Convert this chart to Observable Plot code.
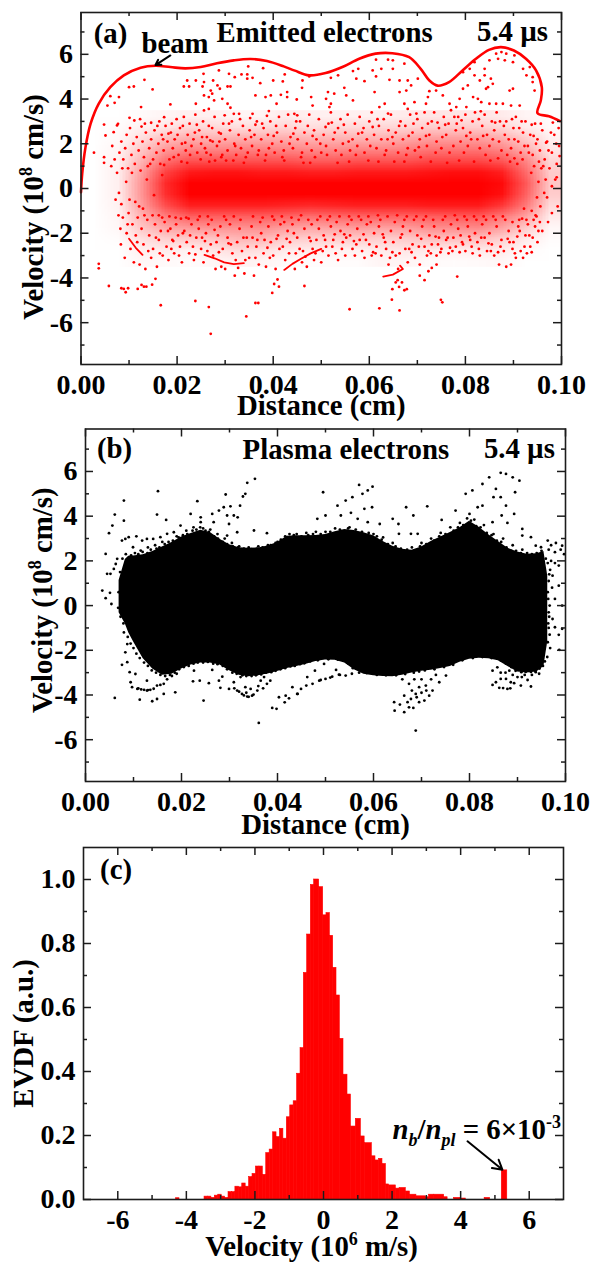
<!DOCTYPE html>
<html><head><meta charset="utf-8">
<script src="https://cdn.jsdelivr.net/npm/d3@7"></script>
<script src="https://cdn.jsdelivr.net/npm/@observablehq/plot@0.6"></script>
<style>html,body{margin:0;padding:0;background:#fff}svg{display:block}</style>
</head><body><div id="chart"></div>
<script>
// ---- shared tick values
const distanceMajor=[0,0.02,0.04,0.06,0.08,0.1];
const distanceMinor=[0.01,0.03,0.05,0.07,0.09];
const velocityMajor=[-6,-4,-2,0,2,4,6];
const velocityMinor=[-7,-5,-3,-1,1,3,5,7];
const evdfXMajor=[-6,-4,-2,0,2,4,6];
const evdfXMinor=[-5,-3,-1,1,3,5];
const evdfYMajor=[0,0.2,0.4,0.6,0.8,1.0];
const evdfYMinor=[0.1,0.3,0.5,0.7,0.9];

// ---- panel (a): x in 1e-3 cm, v in 1e8 cm/s
const beamCurve=[[0,-.17],[.25,.66],[.94,1.85],[2,2.9],[3.7,3.8],[6.1,4.53],[8.9,5.06],[12.4,5.4],[15.5,5.49],[18.6,5.43],[21.7,5.37],[24.9,5.43],[28.3,5.6],[31.8,5.73],[35.3,5.79],[38.7,5.7],[42.2,5.46],[44.5,5.27],[47.5,5.06],[50.9,5.16],[54.4,5.43],[57.9,5.8],[61.3,6.03],[64.8,6.05],[68.3,5.87],[70.7,5.35],[72.5,4.83],[74.2,4.6],[76.6,4.76],[79.4,5.28],[82.2,5.8],[84.9,6.2],[87.4,6.32],[90.1,6.17],[92.6,5.8],[94.7,5.28],[95.9,4.53],[95.7,3.94],[95,3.37],[97.4,3.23],[99.7,3.01]];
const emittedStreaks=[
 [[10,-2.25],[11.4,-2.65],[12.8,-2.97]],
 [[25.7,-2.97],[27.8,-3.12],[29.8,-3.3],[31.8,-3.38],[33.9,-3.34]],
 [[42.3,-3.64],[44,-3.37],[45.7,-3.15],[47.8,-2.9],[50,-2.7]],
 [[62.9,-3.94],[64.9,-3.85],[67,-3.6],[66.4,-3.45]]
];
const emittedDensity=[
0,0,.02,.04,.06,.06,.04,.04,.08,.06,.06,.06,.06,.08,.1,.1,.1,.08,.04,.01,
0,.01,.06,.1,.16,.15,.13,.15,.16,.13,.15,.15,.16,.16,.2,.2,.2,.16,.08,.02,
0,.02,.13,.26,.32,.3,.32,.32,.32,.3,.3,.3,.3,.34,.38,.38,.38,.32,.2,.06,
0,.04,.22,.4,.48,.48,.5,.5,.48,.46,.45,.48,.48,.5,.54,.54,.54,.48,.32,.1,
0,.05,.3,.56,.68,.68,.68,.68,.68,.64,.64,.68,.68,.68,.72,.72,.72,.66,.48,.16,
0,.06,.38,.74,.9,.92,.92,.9,.9,.88,.88,.9,.9,.9,.92,.94,.94,.88,.58,.2,
0,.06,.42,.84,1,1,1,1,1,1,1,1,1,1,1,1,1,.96,.66,.22,
0,.06,.42,.82,1,1,1,1,1,1,1,1,1,1,1,1,1,.94,.62,.2,
0,.05,.38,.7,.88,.88,.88,.88,.86,.84,.86,.88,.88,.88,.9,.9,.9,.78,.52,.14,
0,.04,.3,.5,.62,.62,.62,.62,.6,.56,.58,.6,.6,.6,.62,.64,.64,.52,.36,.08,
0,.03,.22,.34,.4,.42,.42,.44,.38,.34,.36,.38,.36,.38,.44,.44,.46,.36,.2,.03,
0,.01,.12,.18,.2,.22,.28,.28,.2,.18,.18,.2,.18,.2,.24,.24,.24,.18,.08,.01,
0,0,.06,.07,.05,.1,.14,.12,.08,.07,.05,.05,.08,.1,.08,.06,.08,.08,.02,0,
0,0,.03,.02,.01,.03,.05,.04,.02,.01,.01,.01,.04,.04,.02,.01,.02,.03,0,0];
const emittedOutliers=[[3.7,-3.37],[3.7,-3.57],[5.8,-4.36],[8.4,-4.46],[8.9,-4.49],[9.3,-4.64],[9.8,-4.46],[11.8,-4.49],[12.6,-4.31],[13.1,-4.39],[13.6,-4.39],[14.8,-4.3],[15.5,-4.04],[16.6,-5.22],[23.8,-5.03],[26.6,-5.3],[27,-6.5],[34.4,-5.72],[36.3,-5.12],[36.9,-5.12],[39.8,-4.67],[41.2,-4.39],[40.2,-4.27],[40.9,-4.07],[46.5,-4.36],[55.9,-5.4],[62.1,-5.36],[66.3,-5.45],[64.7,-4.97],[74.9,-4.98],[75.2,-5.09],[78.3,-3.94],[65.5,-4.2],[66.2,-4.4],[67.3,-4.55],[64.8,-4.5],[65.9,-4.1],[66.8,-4.2],[67.8,-4.5],[70.5,-3.9],[71.5,-4.1],[72.3,-3.7],[73,-3.55],[74,-3.4]];
const emittedUpper=[[2.7,1.6],[4.8,2.86],[5.1,2.37],[4.8,1.4],[4.8,1.15],[5.5,3.71],[6.1,4.13],[7,3.83],[7.9,4.09],[7.5,2.82],[7.7,2.89],[6.8,2.52],[10,4.53],[11,4.56],[13.2,4.86],[14.9,4.43],[12.5,3.64],[10.1,3.16],[11.1,3.04],[12.6,2.77],[14.6,2.94],[17.3,3.19],[18.6,3.76],[21.4,4.56],[22.5,4.56],[22.1,4.83],[23.9,4.83],[25.5,5.13],[25.3,4.56],[25.6,4.76],[27.5,4.83],[28.7,5.28],[28.4,4.61],[28.9,4.46],[30.5,4.56],[31.1,4.56],[30.8,5.13],[32,4.98],[33.4,5.1],[34.6,5.1],[34.8,5.46],[34.6,4.91],[35.7,4.95],[37.9,5.38],[37.3,4.71],[40,4.83],[42,4.79],[42.4,5.1],[36.3,4.16],[38.4,4.09],[39.5,4.16],[41.6,4.19],[42.9,4.31],[42.9,4.09],[44.9,3.98],[40.7,3.79],[39.1,3.46],[25.6,4.16],[26.6,4.09],[27,4.38],[27.3,4.24],[29.4,4.01],[27.7,3.94],[23.9,3.79],[25.6,3.49],[26.6,3.56],[30.5,3.79],[31.1,3.61],[29.9,3.27],[31.8,3.34],[32.9,3.34],[35.7,3.34],[44.4,3.34],[45,3.27],
[46.1,4.83],[46,4.5],[47.5,5.01],[52,4.95],[53.5,5.06],[56.6,5.25],[57.7,5.35],[60.7,5.28],[61.4,5.76],[63.9,5.76],[64.9,5.73],[67.3,5.58],[64.9,5.35],[62.5,5.35],[57.3,4.91],[59,4.8],[64.2,4.86],[66.3,4.83],[68,4.83],[70.1,4.91],[61.4,5.01],[54.8,4.5],[51.4,4.31],[52.7,4.24],[51,4.01],[47.9,4.09],[61.1,4.31],[66.3,4.31],[67.7,4.38],[68.7,4.61],[72.5,4.35],[73.9,4.38],[72.2,4.09],[71.8,3.79],[75.3,4.16],[67.3,3.79],[68,3.56],[69.4,3.86],[63.2,3.79],[62.1,3.64],[56.6,3.94],[55.2,4.16],[52,3.79],[51.7,3.64],[48.2,3.71],
[81.9,5.65],[80.9,5.35],[79.5,5.2],[85,5.73],[86.4,6.03],[87.5,6.1],[88.5,6.03],[86.8,5.8],[88.2,5.73],[89.9,5.65],[90.2,5.95],[92,5.35],[93.4,5.43],[92.7,5.06],[94,4.76],[94.4,4.38],[94,4.98],[81.9,5.06],[84,5.35],[84,5.06],[83,4.83],[85.3,4.91],[85.7,4.68],[84.7,4.53],[89.2,4.38],[89.9,4.46],[80.5,4.61],[79.5,4.46],[78.8,4.01],[81.6,4.09],[82.6,4.01],[83.3,3.86],[84.3,4.46],[85,3.79],[86.4,3.79],[87.8,3.79],[89.5,3.71],[91.3,3.71],[80.2,3.64],[76.7,3.79],[78.1,3.64]];
const emittedField=[[6.5,1.9],[6.3,1],[7,1.3],[7.5,.7],[8,1.6],[8.4,2.1],[8.8,1.3],[9.2,1.8],[9.5,2.4],[9.8,.9],[10.2,2.7],[10.5,1.5],[10.9,2],[11.2,1.1],[11.6,2.3],[12,1.7],[12.4,.8],[12.8,2.1],[13.1,1.4],[13.5,2.5],[13.9,1],[14.2,1.8],[14.6,2.2],[15,1.3],[15.3,2.6],[15.7,1.6],[16.1,2],[16.5,1.1],[16.8,2.4],[17.2,1.7],[17.6,2.8],[18,2.1],[18.4,1.3],[18.7,2.5],[19.1,1.8],[19.5,2.2],[19.9,3.1],[20.3,1.5],[20.6,2.7],[21,2],[21.4,3.2],[21.8,1.7],[22.2,2.4],[22.6,2.9],[23,1.9],[23.4,2.2],[23.8,3.3],[24.2,1.6],[24.6,2.6],[25,2],[25.4,3],[25.8,1.8],[26.2,2.3],[26.6,2.8],[27,1.5],[27.4,2.1],[27.8,3.2],[28.3,1.9],[28.7,2.5],[29.2,1.4],[29.6,2.9],[30,2.2],[30.5,1.7],[31,2.6],[31.4,3],[31.9,2],[32.3,1.5],[32.8,2.4],[33.3,1.8],[33.7,2.8],[34.2,2.2],[34.7,1.6],[35.1,2.6],[35.6,1.9],[36.1,2.4],[36.6,3],[37,1.7],[37.5,2.2],[38,2.7],[38.5,1.5],[38.9,2.4],[39.4,3],[39.8,2],[40.3,1.6],[40.8,2.5],[41.2,3.2],[41.7,2.1],[42.2,1.7],[42.6,2.8],[43.1,3.3],[43.6,2.3],[44.1,1.8],[44.6,2.7],[45.1,2.2],[45.6,3],[46,1.6],[46.5,2.5],[47,2],[47.5,3.3],[48,1.7],[48.5,2.6],[49,2.2],[49.5,3.1],[50,1.6],[50.5,2.4],[51,1.9],[51.5,2.9],[52,3.4],[52.5,2.2],[53,1.7],[53.5,2.7],[54,3.1],[54.5,2],[55,2.5],[55.5,3.3],[56,1.7],[56.5,2.2],[57,2.9],[57.5,1.9],[58,3.2],[58.5,2.5],[59,1.6],[59.5,2.2],[60,3],[60.5,3.4],[61,2.4],[61.5,1.8],[62,2.8],[62.5,2.2],[63,3.1],[63.5,1.7],[64,2.6],[64.5,3.3],[65,2],[65.5,2.5],[66,1.6],[66.5,3],[67,2.2],[67.5,2.8],[68,1.8],[68.5,3.3],[69,2.5],[69.5,1.7],[70,3.1],[70.5,2.2],[71,2.7],[71.5,3.4],[72,1.9],[72.5,2.4],[73,3],[73.5,3.4],[74,2.1],[74.5,2.7],[75,1.8],[75.5,3.2],[76,2.4],[76.5,2.9],[77,3.5],[77.5,1.9],[78,2.6],[78.5,3.2],[79,2.1],[79.5,2.7],[80,3.3],[80.5,1.9],[81,2.5],[81.5,3],[82,3.4],[82.5,2.2],[83,1.8],[83.5,2.8],[84,3.3],[84.5,2.4],[85,1.9],[85.5,3],[86,2.6],[86.5,3.4],[87,2.1],[87.5,1.7],[88,2.8],[88.5,3],[89,2.2],[89.5,1.8],[90,2.7],[90.5,3.2],[91,2.1],[91.5,1.6],[92,2.5],[92.5,3],[93,1.9],[93.5,2.4],[94,1.5],[94.5,2.9],[95,2.2],[95.5,1.7],[96,2.6],[96.5,1.3],[97,2.1],[97.5,.9],[98,1.6],[98.5,2.4],[99,1.1],[99.5,1.9],[99,.5],[98,.1],[97,-.4],[99.2,-.8],[98,-1.1],[97.2,-1.5],[96,-1.9],
[7.2,-.5],[7.8,-1.2],[8.2,-1.8],[8.3,-2.5],[8.7,-1.3],[9.1,-3.1],[9.5,-2],[9.9,-1.1],[10.3,-2.7],[10.7,-1.6],[11,-3.3],[11.4,-2.1],[11.8,-1.3],[12.2,-3.4],[12.6,-1.8],[13,-2.5],[13.4,-3.6],[13.8,-1.4],[14.2,-2.1],[14.6,-3.1],[15,-2.7],[15.4,-1.6],[15.8,-3.5],[16.2,-2.3],[16.6,-1.9],[17,-3],[17.4,-1.5],[17.8,-2.6],[18.2,-3.2],[18.6,-1.8],[19,-2.3],[19.4,-2.9],[19.8,-1.6],[20.2,-2.1],[20.6,-2.6],[21,-3.3],[21.5,-1.9],[22,-2.4],[22.5,-2.9],[23,-1.6],[23.5,-3.2],[24,-2.2],[24.5,-1.8],[25,-2.7],[25.5,-3.3],[26,-2],[26.5,-1.6],[27,-2.5],[27.5,-3],[28,-3.6],[28.5,-2.1],[29,-1.7],[29.5,-2.7],[30,-3.6],[30.5,-2.2],[31,-1.6],[31.5,-2.9],[32,-3.9],[32.5,-2.4],[33,-1.8],[33.5,-2.8],[34,-3.8],[34.5,-2.2],[35,-3.1],[35.5,-1.7],[36,-3.9],[36.5,-2.6],[37,-3.4],[37.5,-2],[38,-2.9],[38.5,-3.5],[39,-1.7],[39.5,-2.4],[40,-3],[40.5,-3.6],[41,-2.1],[41.5,-1.6],[42,-2.6],[42.5,-3.2],[43,-1.9],[43.5,-2.4],[44,-1.6],[44.5,-3.6],[45,-2.2],[45.5,-2.7],[46,-3.3],[46.5,-1.8],[47,-3.5],[47.5,-2.2],[48,-1.6],[48.5,-3.2],[49,-2.3],[49.5,-1.8],[50,-3.3],[50.5,-2.1],[51,-2.6],[51.5,-3],[52,-1.7],[52.5,-2.3],[53,-2.9],[53.5,-3.2],[54,-1.9],[54.5,-2.4],[55,-3],[55.5,-1.6],[56,-2.1],[56.5,-2.7],[57,-3],[57.5,-1.8],[58,-2.3],[58.5,-2.8],[59,-3.1],[59.5,-1.6],[60,-2.5],[60.5,-3],[61,-2],[61.5,-2.6],[62,-1.7],[62.5,-3],[63,-2.2],[63.5,-2.7],[64,-3.4],[64.5,-1.9],[65,-2.4],[65.5,-3],[66,-3.6],[66.5,-2.2],[67,-1.7],[67.5,-2.7],[68,-3.3],[68.5,-1.9],[69,-2.5],[69.5,-3.1],[70,-2.1],[70.5,-3.4],[71,-1.7],[71.5,-2.6],[72,-3],[72.5,-2.1],[73,-2.5],[73.5,-1.7],[74,-3],[74.5,-2.2],[75,-2.7],[75.5,-1.9],[76,-2.3],[76.5,-2.9],[77,-1.6],[77.5,-2.2],[78,-2.6],[78.5,-1.8],[79,-2.1],[79.5,-2.5],[80,-2.8],[80.5,-1.7],[81,-2.3],[81.5,-2.9],[82,-2],[82.5,-2.4],[83,-3],[83.5,-1.6],[84,-2.2],[84.5,-2.8],[85,-2],[85.5,-2.5],[86,-3],[86.5,-1.7],[87,-3.4],[87.5,-2.3],[88,-2.8],[88.5,-3.5],[89,-1.9],[89.5,-3.4],[90,-2.4],[90.5,-3.1],[91,-1.7],[91.5,-2.8],[92,-3.1],[92.5,-2.1],[93,-1.6],[93.5,-2.6],[94,-2.2],[94.5,-1.7],[95,-2.4],[95.5,-1.5]];
// further passes over the speckled band, above and below the core
const emittedSpeckle=[[9.4,.3],[7.9,-.2],[10.6,.7],[11.3,-.6],[8.6,.9],[12.9,-.9],[13.7,.4],[15.2,-.3],[14.4,1.1],[16.9,.6],[12.3,3.1],[16.3,3],[18.9,2.9],[20.9,1.2],[24.9,1.3],[22.7,1.5],[26.7,1.2],[19.3,1.4],[17.1,2.2],[15.9,2.8],[13.3,2.9],[20.1,2.4],[21.2,2.8],[23.7,2.5],[25.2,2.3],[26.1,1.6],[27.3,2.7],[28.8,2.1],[29.4,1.5],[30.8,2.9],[32.1,1.9],[33.1,3.1],[34.3,1.4],[35.4,2.3],[36.8,1.5],[37.7,2.9],[39.1,1.8],[40.6,2.8],[41.9,1.4],[43.4,2],[44.8,3],[45.8,1.4],[47.2,2.8],[48.7,1.4],[49.8,2],[51.2,1.5],[52.8,2.5],[54.2,1.5],[55.7,2.1],[57.2,1.5],[58.8,2.7],[60.2,1.9],[61.7,3.1],[63.2,1.5],[64.8,2.3],[66.2,2.8],[67.7,1.5],[69.2,2.9],[70.7,1.4],[72.2,2.9],[73.8,1.6],[75.2,2.3],[76.7,1.6],[78.2,2.9],[79.7,1.6],[81.2,2.2],[82.8,3.1],[84.2,1.5],[85.7,2.2],[87.2,3],[88.7,1.5],[90.2,2.2],[91.7,3],[93.2,1.6],[94.7,2],[96.2,1],[97.8,2.5],[99.4,2.7],[98.7,.4],[97.3,1.7],[96.7,.4],[95.8,.9],[95.2,.3],[94.3,1],[93.7,.7],[94.9,-.4],[95.6,-.8],[96.4,-.2],[93.8,-1],[94.6,-1.2],[92.7,-1.4],[91.9,1.3],[90.8,1.1],[89.3,1.2],[92.2,-.9],[91.2,-1.4],[89.8,-1.5],
[8.4,-.7],[9.7,-1.6],[10.1,-.5],[11.7,-2.4],[12.1,-.8],[13.2,-1.2],[14.9,-1.2],[14,-2.8],[15.6,-2.2],[16.4,-2.9],[16.9,-1.3],[18.1,-1.9],[18.8,-2.7],[19.7,-1.3],[20.4,-3],[21.2,-2],[21.9,-1.3],[22.7,-2.1],[23.3,-2.6],[24.3,-1.4],[25.2,-2.2],[26.3,-2.8],[27.2,-1.4],[28.2,-2.4],[29.2,-3.5],[30.2,-1.4],[31.2,-2.5],[32.2,-3.2],[33.2,-1.4],[34.7,-2.6],[35.7,-2.2],[36.3,-3.1],[37.3,-1.5],[38.2,-2.3],[39.3,-3.1],[40.2,-1.4],[41.3,-2.7],[42.3,-1.5],[43.3,-2.9],[44.3,-2],[45.3,-1.4],[46.2,-2.8],[47.3,-1.4],[48.2,-2.7],[49.2,-1.4],[50.3,-2.8],[51.3,-1.4],[52.3,-2.6],[53.2,-1.5],[54.3,-2.7],[55.2,-2.2],[56.3,-1.4],[57.3,-2.5],[58.3,-1.4],[59.3,-2.3],[60.3,-1.5],[61.3,-2.9],[62.3,-1.4],[63.3,-2.4],[64.3,-3.1],[65.3,-1.5],[66.3,-2.9],[67.3,-1.4],[68.3,-2.7],[69.3,-1.4],[70.3,-2.6],[71.3,-1.4],[72.3,-2.8],[73.3,-1.4],[74.3,-2.5],[75.3,-1.4],[76.3,-2.2],[77.3,-2.8],[78.3,-1.4],[79.3,-2.4],[80.3,-1.4],[81.3,-2.6],[82.3,-1.4],[83.3,-2.2],[84.3,-1.4],[85.3,-2.8],[86.3,-1.4],[87.3,-2.6],[88.3,-1.4],[89.2,-2.4],[90.3,-2.9],[91.3,-1.9],[92.3,-2.6],[93.3,-2.1],[94.2,-1.4]];
const emittedSpeckleMore=[[17.3,1.05],[22.1,1.15],[18.2,2.45],[24.1,2.85],[21.7,2.05],[27.9,1.25],[26.9,2.15],[30.2,1.25],[29.1,2.45],[33.9,1.15],[35.2,3.15],[31.7,1.25],[38.3,1.25],[36.3,2.85],[40.1,2.35],[42.3,1.25],[38.7,3.25],[46.3,1.15],[44.2,2.45],[48.2,2.35],[50.9,2.75],[47.7,1.15],[53.4,1.15],[52.2,2.95],[55.8,1.2],[57.7,2.45],[54.7,2.85],[59.8,1.25],[61.9,1.2],[60.7,2.75],[63.8,2.2],[65.2,1.2],[63.9,3.35],[67.3,1.2],[68.2,2.35],[70.3,1.85],[69.8,3.35],[72.8,1.2],[74.2,2.95],[71.8,2.35],[76.2,1.15],[75.8,2.85],[78.7,1.25],[77.7,3.2],[80.2,2.35],[81.8,1.2],[79.2,3.05],[83.7,2.35],[85.2,1.25],[83.2,3.45],[86.8,1.35],[88.2,2.4],[86.2,2.95],[90.2,1.35],[89.7,3.1],[92.3,1.9],[93.8,2.85],[91.2,2.7],[95.3,1.2],[94.2,2.35],[96.8,2.05],[95.7,2.9],[98.2,2.95],[99.6,1.45],[98.9,2],
[18.4,-1.25],[20.8,-1.35],[16.2,-1.2],[19.2,-2.35],[22.4,-1.35],[24.7,-1.25],[23.8,-2.95],[26.4,-1.25],[27.8,-1.85],[25.8,-2.35],[29.8,-1.25],[28.7,-2.85],[31.8,-1.25],[30.7,-2.45],[33.8,-2.2],[32.7,-3.55],[35.8,-1.25],[34.2,-3.2],[37.8,-1.3],[36.7,-2.3],[39.8,-1.25],[38.8,-2.65],[41.8,-1.25],[40.7,-2.25],[43.8,-1.3],[42.8,-2.25],[45.8,-1.2],[44.7,-2.9],[47.8,-2.35],[46.7,-3.05],[49.8,-1.25],[48.8,-2.9],[51.8,-1.25],[50.8,-2.3],[53.8,-1.25],[52.8,-2.05],[55.8,-1.25],[54.8,-2.05],[57.8,-1.25],[56.8,-2.35],[59.8,-1.25],[58.8,-2.05],[61.8,-1.2],[60.8,-2.85],[63.8,-1.25],[62.8,-2.05],[65.8,-1.2],[64.8,-2.85],[67.8,-1.25],[66.8,-2.05],[69.8,-1.25],[68.8,-2.85],[71.8,-1.25],[70.8,-2.25],[73.8,-2.15],[72.8,-2.9],[75.8,-1.25],[74.8,-2.85],[77.8,-1.2],[76.8,-2.65],[79.8,-1.25],[78.8,-2.85],[81.8,-1.25],[80.8,-2.15],[83.8,-1.25],[82.8,-2.7],[85.8,-1.25],[84.8,-2.45],[87.8,-1.25],[86.8,-2.85],[89.8,-2.7],[88.8,-2.25],[91.8,-1.35],[90.8,-2.15],[93.8,-2.85],[92.8,-2.9],[95.2,-1.9],[94.8,-1.25]];

// ---- panel (b): the solid cloud's edges, then the dots outside it
const plasmaX=[7,8.3,9,10,12,14,16,18,20,22,24,26,28,30,32,34,36,38,40,42,44,46,48,50,52,54,56,58,60,62,64,66,68,70,72,74,76,78,80,82,84,86,88,90,92,94,95.5,96.3];
const plasmaUpper=[1.12,2.06,2.21,2.22,2.27,2.42,2.62,2.82,3.07,3.22,3.37,3.27,2.97,2.72,2.59,2.57,2.58,2.67,2.82,3.1,3.12,3.12,3.14,3.18,3.3,3.4,3.36,3.26,3.12,2.87,2.66,2.52,2.47,2.62,2.87,3.07,3.27,3.48,3.77,3.5,3.17,2.87,2.57,2.4,2.3,2.32,2.42,1.32];
const plasmaLower=[-.32,-.82,-1.22,-1.62,-2.37,-2.84,-3.12,-3.07,-2.84,-2.66,-2.57,-2.57,-2.66,-2.92,-3.12,-3.18,-3.14,-3.06,-2.95,-2.82,-2.72,-2.62,-2.5,-2.43,-2.45,-2.57,-2.87,-3.07,-3.14,-3.17,-3.18,-3.12,-3.02,-2.94,-2.89,-2.82,-2.72,-2.54,-2.4,-2.36,-2.38,-2.47,-2.72,-2.97,-3.02,-2.97,-2.72,-1.62];
const plasmaDots=[[3.5,.67],[4.2,.33],[5.1,.57],[5.4,.07],[4.5,1.42],[5.2,1.42],[4.2,2.31],[4.9,3.24],[5.6,3.58],[6.1,4.07],[8,4.7],[8,3.8],[14.9,4.07],[15.1,5.12],[16.8,3.83],[19.8,3.58],[21.9,4.1],[23.3,4.67],[29.2,4.97],[33.7,5.49],[35.3,5.67],[33.3,5],[32.8,4.88],[32.2,4.47],[30.2,4.44],[28.8,4.4],[27.8,4.25],[26.4,4.1],[24,3.95],[24,3.73],[26.7,3.73],[29.5,4.03],[30.9,4.03],[31.7,3.95],[29.9,3.65],[35.1,3.36],[37.8,3.24],[31.6,3.28],[29.5,3.13],[7.6,2.91],[8.3,2.98],[9,3.06],[10.6,3.1],[11.8,2.91],[12.8,2.98],[14.1,2.98],[15.6,3.06],[17,3.21],[18.4,3.28],[6.6,2.09],[6.3,1.86],[5.9,1.64],[9.9,2.61],[11.5,2.46],[13,2.6],[14.5,2.7],[16,2.85],[19,3.1],[21,3.35],[22.5,3.5],[24.5,3.45],[26,3.4],[27.5,3.2],[29,3],[30.5,2.8],[32,2.65],[34,2.6],[36,2.65],[38,2.7],[40,2.85],
[49.5,5.07],[52.5,4.47],[54.2,4.7],[55.6,4.85],[57,5.4],[57.7,5],[58.8,5.15],[59.8,5.32],[53.2,4.03],[55.3,4.15],[56.7,3.88],[58.1,4.33],[59.7,4.4],[58.8,3.73],[61.3,3.65],[64,3.88],[65.2,3.65],[66.8,4.4],[68.3,4.03],[71.2,4.44],[50,4.03],[48.3,3.88],[69.2,3.21],[67.8,3.21],[65.3,3.21],[74.2,3.83],[77.1,4.25],[79.2,5],[80.6,5.15],[82.7,5.44],[84.1,5.74],[86.5,5.94],[87.6,5.89],[89,5.74],[90.4,5.59],[89.5,5.07],[85.5,5.22],[86.5,4.85],[87.6,4.47],[85,4.85],[82.7,4.47],[81.7,4.4],[80,4.1],[86.7,4.03],[89.3,4.1],[87.9,3.7],[91,3.43],[91,3.13],[92.8,3.06],[84.8,3.73],[93.8,2.68],[96.3,2.91],[99.3,2.68],[94.9,2.61],[97.8,2.39],[98.6,1.79],[97.3,1.34],[98.6,.89],[97.8,.3],[99.3,0],[97.3,-.6],[97.8,-.97],[99.3,-1.04],[98.6,-1.31],[96.3,.6],[96.7,0],[97,2.7],[98,2.8],[99,2.5],[99.7,2.3],[96.5,2.5],[97,2],[96.8,1.6],[97.8,1.9],[96.5,1.1],[97.2,.8],[96.6,-.5],[96.5,-1],[44,3.2],[46,3.25],[48,3.3],[50,3.3],[52,3.45],[55,3.5],[60,3.2],[62,3.05],[64,2.8],[68,2.6],[70,2.8],[72,3],[74,3.25],[76,3.5],[78,3.7],[79.5,3.9],[81,3.85],[83,3.6],[85,3.2],[87,3],[89,2.7],[91,2.5],
[6.1,-4.13],[7.6,-2.65],[8.7,-1.72],[8.3,-2.09],[8.7,-2.53],[9.2,-2.98],[9.4,-3.43],[9.7,-3.65],[10.8,-3.73],[12.2,-3.77],[13.5,-3.77],[14.9,-3.58],[16.3,-3.5],[11.3,-4.21],[13.9,-4.28],[14.9,-4.18],[16.3,-3.95],[18.7,-3.88],[10.4,-3.06],[12.8,-3.36],[22.4,-3.39],[23.8,-3.36],[25.7,-3.47],[24.6,-4.25],[27.8,-3.36],[28.5,-3.18],[28.1,-3.68],[29.9,-3.73],[30.9,-3.43],[31.6,-3.8],[32.6,-3.95],[33.7,-4.07],[34.7,-4.03],[35.8,-3.8],[33.3,-3.65],[34.4,-3.73],[36.1,-5.25],[38.9,-4.58],[39.8,-4.62],[40.3,-4.1],[41.7,-4.03],[41.5,-4.33],[42.4,-4.15],[43.1,-3.65],[44.1,-3.95],[37.8,-3.5],[36.5,-3.36],[38.5,-3.36],[22.6,-2.91],[26.4,-2.88],[32.3,-3.2],[35.8,-3.06],[37.2,-3.2],[11,-3.7],[11.6,-3.75],[12.8,-3.8],[13,-3.78],[14.2,-3.72],[15.6,-3.55],[17,-3.3],[18,-3.15],[19,-3.05],[33,-4.02],[34,-4.08],[35,-3.98],[31,-3.7],[32,-3.85],[33.5,-3.9],[36,-3.6],[37,-3.7],[44.2,-3.95],[44.9,-3.73],[46.2,-3.2],[46,-3.58],[47.3,-3.5],[48.7,-3.36],[50,-3.28],[51.4,-3.18],[52.8,-3.09],[54.2,-3.13],[47.8,-2.91],[49.7,-2.61],[52.2,-2.88],[49,-3.33],[51,-3.22],[53,-3.1],[55.5,-3.05],[64.3,-4.32],[65.5,-4.43],[64.4,-4.7],[66.4,-4.77],[66.4,-4.03],[67.1,-4.32],[67.4,-4.55],[68.3,-4.58],[67.8,-4.18],[69.5,-4.32],[68.8,-3.95],[70.6,-4.25],[71.6,-4.03],[68.8,-5.59],[67.4,-3.5],[69.5,-3.65],[70.9,-3.58],[72.3,-3.8],[73.7,-3.43],[75.1,-3.13],[68,-3.8],[69,-4.1],[70,-3.9],[71,-3.8],[66,-3.3],[68.5,-3.3],[70,-3.3],[72,-3.3],[73,-3.1],[84.8,-3.55],[85.5,-3.43],[86.5,-3.28],[86.2,-3.68],[87.9,-3.73],[87.6,-3.28],[88.6,-3.43],[89.3,-3.47],[90.7,-3.58],[92.8,-3.62],[84.8,-2.91],[85.8,-2.76],[88.3,-2.91],[90.9,-3.2],[92.1,-3.33],[93.8,-2.98],[98.7,-1.98],[96.3,-1.64],[87,-3.69],[88.5,-3.7],[86.5,-3],[87.5,-3],[89,-3.1],[90,-3.2],[91.5,-3.1],[93,-3.1],[94.5,-3.05],[95.7,-2.5]];
// dots that straddle the edge of the solid cloud and make it fuzzy
const plasmaFringe=[[7.2,1.5],[7.4,.2],[6.9,.6],[6.8,-.1],[7.3,-.5],[7.9,-.8],[7.7,2.1],[8.4,2.3],[9.5,2.25],[10.3,2.35],[11,2.3],[11.9,2.4],[12.9,2.35],[13.6,2.5],[14.8,2.55],[15.4,2.6],[16.5,2.75],[17.3,2.85],[18.2,2.9],[19.4,3.05],[20.3,3.15],[21.2,3.2],[22.3,3.35],[23.1,3.4],[23.9,3.5],[25,3.35],[25.7,3.3],[26.8,3.1],[27.6,3],[28.6,2.85],[29.5,2.75],[30.7,2.65],[31.8,2.6],[33,2.55],[34.6,2.52],[35.7,2.55],[36.9,2.6],[38.6,2.7],[39.6,2.8],[40.7,2.95],[41.6,3.1],[42.5,3.2],[43.4,3.15],[45,3.1],[46.4,3.15],[47.4,3.2],[49,3.2],[51,3.3],[53,3.4],[54.7,3.45],[56.3,3.4],[57.6,3.3],[59,3.25],[60.7,3.1],[61.7,2.95],[63,2.75],[64.6,2.65],[65.7,2.55],[67,2.5],[68.5,2.45],[69.7,2.65],[71,2.75],[72.6,2.9],[73.7,3.1],[75,3.2],[76.7,3.35],[77.6,3.5],[78.7,3.6],[80.3,3.8],[81.4,3.55],[82.3,3.5],[83.6,3.25],[84.6,3.15],[85.7,2.9],[86.6,2.85],[87.7,2.6],[88.7,2.45],[89.7,2.45],[90.7,2.35],[92,2.35],[93,2.3],[94,2.35],[95,2.45],[95.9,2.1],[96.3,1.9],[96.6,1.4],[96.4,.3],[96.5,-.3],[96.4,-.8],[96.7,-1.3],[96.8,-1.9],[96.2,-2.3],
[8,-1.2],[8.8,-1.4],[9.4,-1.7],[10,-1.9],[10.6,-2.15],[11.3,-2.35],[12.2,-2.55],[13,-2.7],[13.8,-2.9],[14.7,-3],[15.6,-3.1],[16.6,-3.15],[17.6,-3.1],[18.6,-3],[19.5,-2.85],[20.5,-2.75],[21.5,-2.7],[22.5,-2.6],[23.4,-2.55],[24.5,-2.55],[25.5,-2.52],[26.6,-2.6],[27.5,-2.62],[28.6,-2.7],[29.5,-2.85],[30.6,-3],[31.5,-3.05],[32.7,-3.12],[33.5,-3.15],[34.6,-3.15],[35.5,-3.12],[36.6,-3.08],[37.6,-3],[38.7,-2.98],[39.6,-2.92],[40.6,-2.85],[41.6,-2.8],[42.7,-2.72],[43.6,-2.7],[44.7,-2.62],[45.6,-2.58],[46.8,-2.5],[48.4,-2.45],[50.6,-2.4],[52.6,-2.42],[54.8,-2.6],[55.7,-2.8],[57,-3],[58.6,-3.02],[60.7,-3.1],[62.6,-3.12],[64.7,-3.12],[66.6,-3.06],[68.4,-3],[69.5,-2.95],[70.7,-2.9],[72.7,-2.85],[74.7,-2.75],[76.6,-2.65],[78.5,-2.45],[80.7,-2.35],[82.7,-2.3],[84.6,-2.35],[86.5,-2.45],[87.6,-2.6],[88.7,-2.75],[89.6,-2.92],[90.8,-2.98],[91.7,-2.97],[92.8,-2.97],[93.7,-2.92],[94.6,-2.82],[95.3,-2.7]];

// ---- panel (c)
const evdfEdges=[-4.3,-4.2,-3.47,-3.37,-3.27,-3.17,-3.07,-2.97,-2.87,-2.77,-2.67,-2.57,-2.47,-2.37,-2.27,-2.17,-2.07,-1.97,-1.87,-1.77,-1.67,-1.57,-1.47,-1.37,-1.27,-1.17,-1.07,-.97,-.87,-.77,-.67,-.573,-.476,-.369,-.272,-.126,-.01,.087,.185,.282,.379,.476,.583,.7,.8,.943,1.09,1.2,1.41,1.516,1.62,1.72,1.82,1.91,2.11,2.22,2.4,2.52,2.71,2.98,3.08,3.23,3.52,3.62,3.81,4,4.15,4.7,4.86,5.2,5.36];
const evdfHeights=[.004,0,.009,.009,.005,.012,.015,.009,.005,.023,.023,.04,.038,.05,.04,.07,.08,.103,.103,.077,.145,.156,.21,.195,.221,.19,.257,.294,.307,.393,.473,.708,.828,.983,1,.976,.888,.895,.824,.724,.6375,.502,.39,.328,.228,.252,.197,.176,.135,.122,.127,.111,.047,.044,.034,.036,.025,.015,.01,.007,.015,.015,.007,0,.005,.003,0,.005,0,.091];

const FONT="'Liberation Serif','Times New Roman',serif";
const INK="#1c1c1c";
const bold={fontFamily:FONT,fontWeight:"bold",fontSize:28,fill:"#000"};
const title={...bold,fontSize:28.8};

// Turn ^{..}, _{..} and *..* in a label into real tspans
function richText(svg){
  d3.select(svg).selectAll("text").each(function(){
    const s=this.textContent;
    if(!/[\^_*]/.test(s))return;
    const parts=s.split(/(\^\{[^}]*\}|_\{[^}]*\}|\*[^*]*\*)/).filter(p=>p);
    const sel=d3.select(this);sel.text(null);
    let shift=0;
    for(const p of parts){
      const t=sel.append("tspan");
      let need=0;
      if(p[0]==="^"){t.text(p.slice(2,-1)).attr("font-size",18);need=-11;}
      else if(p[0]==="_"){t.text(p.slice(2,-1)).attr("font-size",18).attr("font-style","italic");need=7;}
      else if(p[0]==="*"){t.text(p.slice(1,-1)).attr("font-style","italic");}
      else t.text(p);
      if(need!==shift){t.attr("dy",need-shift);shift=need;}
    }
  });
  return svg;
}

function panel({height,mL,mR,mT,mB,xDomain,yDomain,xMajor,xMinor,yMajor,yMinor,xFormat,yFormat,xPad,marks,extra}){
  const innerW=592-mL-mR, innerH=height-mT-mB, major=8, minor=4;
  const ts={stroke:INK,strokeWidth:1.5};
  const plot=Plot.plot({
    width:592,height,marginLeft:mL,marginRight:mR,marginTop:mT,marginBottom:mB,
    style:{background:"transparent",font:`bold 28px ${FONT}`,color:"#000"},
    x:{domain:xDomain,label:null},y:{domain:yDomain,label:null},
    ...extra,
    marks:[
      ...marks,
      Plot.tickX(xMajor,{x:d=>d,insetTop:innerH-major,...ts}),
      Plot.tickX(xMinor,{x:d=>d,insetTop:innerH-minor,...ts}),
      Plot.tickX(xMajor,{x:d=>d,insetBottom:innerH-major,...ts}),
      Plot.tickX(xMinor,{x:d=>d,insetBottom:innerH-minor,...ts}),
      Plot.tickY(yMajor,{y:d=>d,insetRight:innerW-major,...ts}),
      Plot.tickY(yMinor,{y:d=>d,insetRight:innerW-minor,...ts}),
      Plot.tickY(yMajor,{y:d=>d,insetLeft:innerW-major,...ts}),
      Plot.tickY(yMinor,{y:d=>d,insetLeft:innerW-minor,...ts}),
      Plot.frame({stroke:INK,strokeWidth:1.6}),
      Plot.axisX({ticks:xMajor,tickSize:0,tickPadding:xPad,tickFormat:xFormat,label:null,...bold}),
      Plot.axisY({ticks:yMajor,tickSize:0,tickPadding:8,tickFormat:yFormat,label:null,...bold})
    ].concat(extra.after||[])
  });
  return richText(plot);
}
const x1e3=d=>d[0]/1000, v=d=>d[1];
const label=(t,o)=>Plot.text([t],{text:d=>d,...title,...o});

const chart=document.getElementById("chart");
// (a)
chart.append(panel({height:425,mL:80.5,mR:31,mT:12,mB:61,xDomain:[0,.1],yDomain:[-7.87,7.87],
  xMajor:distanceMajor,xMinor:distanceMinor,yMajor:velocityMajor,yMinor:velocityMinor,
  xFormat:d=>d.toFixed(2),yFormat:String,xPad:10,
  extra:{color:{type:"linear",domain:[0,1],range:["#ffffff","#ff0000"]},after:[
    label("(a)",{x:.00614,y:6.93}),
    label("Emitted electrons",{x:.0507,y:6.98}),
    label("5.4 µs",{x:.0898,y:7.02}),
    label("beam",{x:.01956,y:6.49}),
    Plot.arrow([0],{x1:()=>.0186,y1:()=>5.95,x2:()=>.0155,y2:()=>5.52,bend:0,headLength:7,strokeWidth:2,stroke:"#000"}),
    label("Distance (cm)",{frameAnchor:"bottom",dy:50}),
    label("Velocity (10^{8} cm/s)",{frameAnchor:"left",textAnchor:"middle",dx:-47.5,dy:18.5,rotate:-90})
  ]},
  marks:[
    Plot.raster(emittedDensity,{width:20,height:14,x1:0,x2:.1,y1:3.5,y2:-3.5,fill:d=>d}),
    Plot.dot([...emittedField,...emittedSpeckle,...emittedSpeckleMore,...emittedOutliers,...emittedUpper],{x:x1e3,y:v,r:1.4,fill:"#ff0000",stroke:"none"}),
    ...emittedStreaks.map(s=>Plot.line(s,{x:x1e3,y:v,stroke:"#ff0000",strokeWidth:1.8})),
    Plot.line(beamCurve,{x:x1e3,y:v,stroke:"#ff0000",strokeWidth:2.6,curve:"catmull-rom"})
  ]}));
// (b)
const plasmaRows=plasmaX.map((x,i)=>({x:x/1000,hi:plasmaUpper[i],lo:plasmaLower[i]}));
chart.append(panel({height:420,mL:85,mR:27,mT:3.5,mB:64,xDomain:[0,.1],yDomain:[-7.87,7.9],
  xMajor:distanceMajor,xMinor:distanceMinor,yMajor:velocityMajor,yMinor:velocityMinor,
  xFormat:d=>d.toFixed(2),yFormat:String,xPad:10,
  extra:{after:[
    label("(b)",{x:.00604,y:7.02}),
    label("Plasma electrons",{x:.05425,y:6.98}),
    label("5.4 µs",{x:.0904,y:7.02}),
    label("Distance (cm)",{frameAnchor:"bottom",dy:52}),
    label("Velocity (10^{8} cm/s)",{frameAnchor:"left",textAnchor:"middle",dx:-43,dy:-5,rotate:-90})
  ]},
  marks:[
    Plot.areaY(plasmaRows,{x:"x",y1:"lo",y2:"hi",fill:"#000"}),
    Plot.dot([...plasmaDots,...plasmaFringe],{x:x1e3,y:v,r:1.4,fill:"#000",stroke:"none"})
  ]}));
// (c)
const evdfBars=evdfHeights.map((h,i)=>({x1:evdfEdges[i],x2:evdfEdges[i+1],h})).filter(d=>d.h>0);
chart.append(panel({height:417,mL:83,mR:29,mT:2,mB:63,xDomain:[-7,7],yDomain:[0,1.1],
  xMajor:evdfXMajor,xMinor:evdfXMinor,yMajor:evdfYMajor,yMinor:evdfYMinor,
  xFormat:String,yFormat:d=>d.toFixed(1),xPad:10,
  extra:{after:[
    label("(c)",{x:-6.05,y:1.031}),
    label("*n*_{b}/*n*_{pl} = 6×10^{-3}",{x:2.01,y:.219,textAnchor:"start"}),
    Plot.arrow([0],{x1:()=>4.2,y1:()=>.182,x2:()=>5.22,y2:()=>.093,bend:0,headLength:8,strokeWidth:2,stroke:"#000"}),
    label("Velocity (10^{6} m/s)",{frameAnchor:"bottom",dy:56,dx:-12}),
    label("EVDF (a.u.)",{frameAnchor:"left",textAnchor:"middle",dx:-60,dy:10,rotate:-90})
  ]},
  marks:[
    Plot.rectY(evdfBars,{x1:"x1",x2:"x2",y:"h",fill:"#ff0000",stroke:"#ff0000",strokeWidth:.6})
  ]}));
</script></body></html>
